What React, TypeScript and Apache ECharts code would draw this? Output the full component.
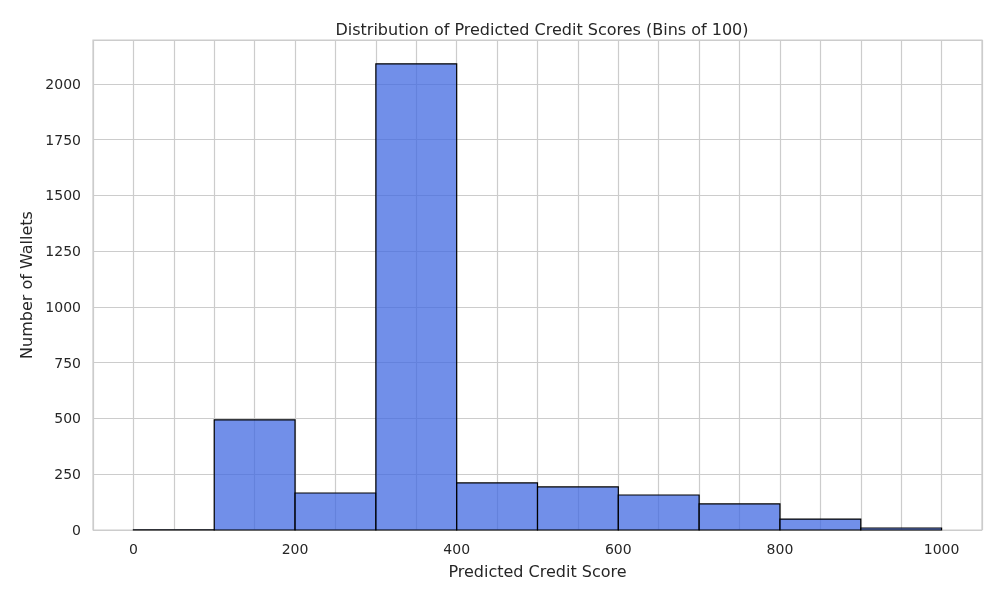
import React, { useEffect, useRef } from "react";
import * as echarts from "echarts";

const binStarts = [0, 100, 200, 300, 400, 500, 600, 700, 800, 900];
const binWidth = 100;
const counts = [1, 494, 166, 2090, 211, 193, 157, 117, 49, 9];
const xTicks = [0, 200, 400, 600, 800, 1000];
const yTicks = [0, 250, 500, 750, 1000, 1250, 1500, 1750, 2000];

export default function App() {
  const ref = useRef<HTMLDivElement>(null);
  useEffect(() => {
    const chart = echarts.init(ref.current!, null, { renderer: "svg" });
    const font = "DejaVu Sans";
    const txt = "#262626";
    chart.setOption({
      animation: false,
      textStyle: { fontFamily: font },
      title: {
        text: "Distribution of Predicted Credit Scores (Bins of 100)",
        left: 537, top: 16, textAlign: "center",
        textStyle: { fontSize: 16, fontWeight: "normal", color: txt, fontFamily: font },
      },
      grid: { left: 93, right: 18, top: 40, bottom: 70, show: true, borderColor: "#cccccc", borderWidth: 1.2 },
      xAxis: {
        type: "value", min: -50, max: 1050, interval: 50,
        name: "Predicted Credit Score", nameLocation: "middle", nameGap: 33,
        nameTextStyle: { fontSize: 16, color: txt },
        axisLine: { show: false }, axisTick: { show: false },
        axisLabel: {
          fontSize: 14, color: txt, margin: 12, showMinLabel: false, showMaxLabel: false,
          formatter: (v: number) => (xTicks.includes(v) ? String(v) : ""),
        },
        splitLine: { show: true, lineStyle: { color: "#cccccc", width: 1.2 }, interval: (_i: number, v: number) => xTicks.includes(v) },
      },
      yAxis: {
        type: "value", min: 0, max: 2197, interval: 250,
        name: "Number of Wallets", nameLocation: "middle", nameGap: 58,
        nameTextStyle: { fontSize: 16, color: txt },
        axisLine: { show: false }, axisTick: { show: false },
        axisLabel: { fontSize: 14, color: txt, margin: 12, showMaxLabel: false, formatter: (v: number) => (yTicks.includes(v) ? String(v) : "") },
        splitLine: { show: true, lineStyle: { color: "#cccccc", width: 1.2 } },
      },
      series: [{
        type: "custom",
        data: binStarts.map((s, i) => [s, s + binWidth, counts[i]]),
        encode: { x: [0, 1], y: 2 },
        renderItem: (_p: any, api: any) => {
          const a = api.coord([api.value(0), api.value(2)]);
          const b = api.coord([api.value(1), 0]);
          return {
            type: "rect",
            shape: { x: a[0], y: a[1], width: b[0] - a[0], height: b[1] - a[1] },
            style: { fill: "rgba(65,105,225,0.75)", stroke: "#000", lineWidth: 1.2 },
          };
        },
      }],
    });
    return () => chart.dispose();
  }, []);
  return <div ref={ref} style={{ position: "fixed", left: 0, top: 0, width: 1000, height: 600 }} />;
}
